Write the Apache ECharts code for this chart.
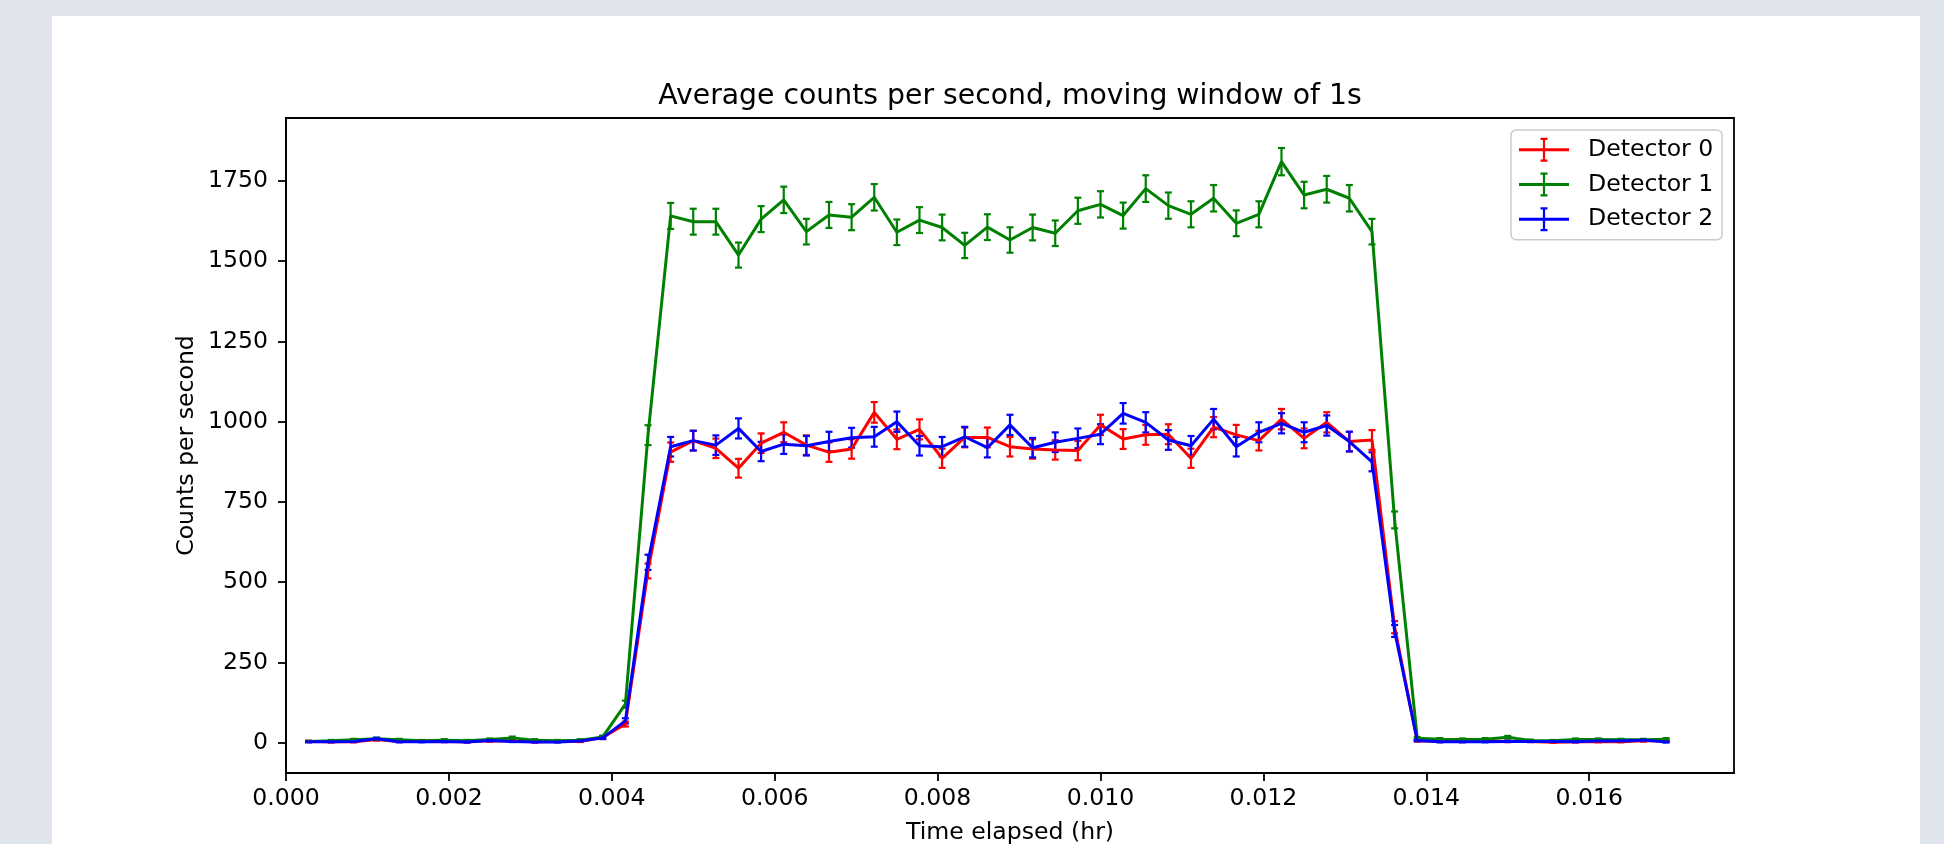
<!DOCTYPE html>
<html>
<head>
<meta charset="utf-8">
<script src="https://cdn.jsdelivr.net/npm/echarts@6/dist/echarts.min.js"></script>
<style>
  html, body { margin: 0; padding: 0; width: 1944px; height: 844px; overflow: hidden; background: #dfe3ec; }
  #card { position: absolute; left: 52px; top: 16px; width: 1868px; height: 900px; background: #ffffff; }
  #chart { position: absolute; left: 0; top: 0; width: 1944px; height: 844px; }
</style>
</head>
<body>
<div id="card"></div>
<div id="chart"></div>
<script>
// ---- data ----
const chartTitle = 'Average counts per second, moving window of 1s';
const xAxisTitle = 'Time elapsed (hr)';
const yAxisTitle = 'Counts per second';
const seriesNames = ['Detector 0', 'Detector 1', 'Detector 2'];

// elapsed time of each window, in seconds (plotted in hours)
const seconds = [1,2,3,4,5,6,7,8,9,10,11,12,13,14,15,16,17,18,19,20,
  21,22,23,24,25,26,27,28,29,30,31,32,33,34,35,36,37,38,39,40,
  41,42,43,44,45,46,47,48,49,50,51,52,53,54,55,56,57,58,59,60,61];

const det0 = [4,3,3,10,4,5,4,3,6,5,3,4,4,16,58,535,
  905,941,917,855,933,967,927,905,915,1029,945,976,886,951,951,922,
  915,912,910,990,946,959,961,886,983,959,941,1008,948,998,938,943,
  360,6,4,4,5,4,4,1,3,3,3,6,6];
const det0Err = [2,1.7,1.7,3.2,2,2.2,2,1.7,2.4,2.2,1.7,2,2,4,7.6,23.1,
  30.1,30.7,30.3,29.2,30.5,31.1,30.4,30.1,30.2,32.1,30.7,31.2,29.8,30.8,30.8,30.4,
  30.2,30.2,30.2,31.5,30.8,31,31,29.8,31.4,31,30.7,31.7,30.8,31.6,30.6,30.7,
  19,2.4,2,2,2.2,2,2,1,1.7,1.7,1.7,2.4,2.4];

const det1 = [4,6,9,12,9,6,8,6,10,15,8,6,8,18,120,958,
  1641,1623,1623,1519,1631,1691,1592,1644,1637,1699,1590,1628,1605,1549,1606,1566,
  1605,1587,1657,1677,1642,1726,1673,1646,1696,1618,1646,1810,1706,1724,1696,1592,
  694,14,11,10,11,17,7,6,10,10,9,9,11];
const det1Err = [2,2.5,3,3.5,3,2.5,3,2.5,3,4,3,2.5,3,4,11,31,
  40.5,40.3,40.3,39,40.4,41.1,39.9,40.5,40.5,41.2,39.9,40.3,40.1,39.4,40.1,39.6,
  40.1,39.8,40.7,41,40.5,41.5,40.9,40.6,41.2,40.2,40.6,42.5,41.3,41.5,41.2,39.9,
  26.3,3.7,3.3,3.2,3.3,4.1,2.6,2.4,3.2,3.2,3,3,3.3];

const det2 = [3,3,4,12,3,3,4,2,7,4,2,2,5,15,68,562,
  922,941,927,979,907,930,925,938,950,953,1000,925,922,953,919,990,
  919,936,948,961,1026,998,943,925,1008,922,967,995,967,988,938,875,
  348,7,3,3,3,4,4,4,3,5,5,8,2];
const det2Err = [1.7,1.7,2,3.5,1.7,1.7,2,1.4,2.6,2,1.4,1.4,2.2,3.9,8.2,23.7,
  30.4,30.7,30.4,31.3,30.1,30.5,30.4,30.6,30.8,30.9,31.6,30.4,30.4,30.9,30.3,31.5,
  30.3,30.6,30.8,31,32,31.6,30.7,30.4,31.7,30.4,31.1,31.5,31.1,31.4,30.6,29.6,
  18.7,2.6,1.7,1.7,1.7,2,2,2,1.7,2.2,2.2,2.8,1.4];

const xTicks = [0, 0.002, 0.004, 0.006, 0.008, 0.010, 0.012, 0.014, 0.016];
const yTicks = [0, 250, 500, 750, 1000, 1250, 1500, 1750];
const xRange = [0, 0.017778];
const yRange = [-94.4, 1946];

// ---- styling ----
const colors = ['#ff0000', '#008000', '#0000ff'];
const FONT = '"DejaVu Sans", "Liberation Sans", sans-serif';
const FS = 23.6;      // tick / label / legend font size
const TITLE_FS = 28.3;
const GRID = { left: 286, top: 118, width: 1448, height: 655 };

// legend icon: horizontal line + error bar with caps (50 x 24 box)
const legendIcon = 'path://' +
  'M0 10.5 L50 10.5 L50 13.5 L0 13.5 Z ' +
  'M23.9 0 L26.1 0 L26.1 24 L23.9 24 Z ' +
  'M21.5 0 L28.5 0 L28.5 2.2 L21.5 2.2 Z ' +
  'M21.5 21.8 L28.5 21.8 L28.5 24 L21.5 24 Z';

function toHours(s) { return s / 3600; }

function lineSeries(name, vals, color) {
  return {
    name: name,
    type: 'line',
    data: seconds.map((s, i) => [toHours(s), vals[i]]),
    showSymbol: false,
    symbol: 'none',
    lineStyle: { color: color, width: 3 },
    itemStyle: { color: color },
    emphasis: { disabled: true },
    z: 2
  };
}

function errSeries(name, vals, errs, color) {
  return {
    name: name,
    type: 'custom',
    data: seconds.map((s, i) => [toHours(s), vals[i] - errs[i], vals[i] + errs[i]]),
    encode: { x: 0, y: [1, 2] },
    itemStyle: { color: color },
    renderItem: function (params, api) {
      const x = api.value(0);
      const lo = api.coord([x, api.value(1)]);
      const hi = api.coord([x, api.value(2)]);
      const cw = 3.5;
      const st = { stroke: color, lineWidth: 2.2 };
      return {
        type: 'group',
        children: [
          { type: 'line', shape: { x1: lo[0], y1: lo[1], x2: hi[0], y2: hi[1] }, style: st },
          { type: 'line', shape: { x1: lo[0] - cw, y1: lo[1], x2: lo[0] + cw, y2: lo[1] }, style: st },
          { type: 'line', shape: { x1: hi[0] - cw, y1: hi[1], x2: hi[0] + cw, y2: hi[1] }, style: st }
        ]
      };
    },
    z: 2
  };
}

// measure the title so it can be centred over the plot area
const mctx = document.createElement('canvas').getContext('2d');
mctx.font = TITLE_FS + 'px ' + FONT;
const titleW = mctx.measureText(chartTitle).width;
const plotCenter = GRID.left + GRID.width / 2;

const chart = echarts.init(document.getElementById('chart'), null, { renderer: 'canvas' });
chart.setOption({
  animation: false,
  backgroundColor: 'transparent',
  title: {
    text: chartTitle,
    left: plotCenter - titleW / 2,
    top: 82.5,
    padding: 0,
    textStyle: { fontFamily: FONT, fontSize: TITLE_FS, fontWeight: 'normal', color: '#000' }
  },
  legend: {
    orient: 'vertical',
    left: 1511,
    top: 130,
    padding: [7.8, 8.7, 8.5, 8],
    itemGap: 10.7,
    itemWidth: 50,
    itemHeight: 24,
    backgroundColor: 'rgba(255,255,255,0.8)',
    borderColor: '#cccccc',
    borderWidth: 1.5,
    borderRadius: 5,
    selectedMode: false,
    textStyle: { fontFamily: FONT, fontSize: FS, color: '#000', padding: [0, 0, 0, 14] },
    data: seriesNames.map((n, i) => ({ name: n, icon: legendIcon, itemStyle: { color: colors[i] } }))
  },
  grid: Object.assign({
    show: true, borderColor: '#000', borderWidth: 1.8, backgroundColor: '#fff',
    containLabel: false, outerBoundsMode: 'none'
  }, GRID),
  xAxis: {
    type: 'value',
    min: xRange[0],
    max: xRange[1],
    name: xAxisTitle,
    nameLocation: 'middle',
    nameGap: 47.5,
    nameMoveOverlap: false,
    nameTextStyle: { fontFamily: FONT, fontSize: FS, color: '#000' },
    axisLine: { show: true, onZero: false, lineStyle: { color: '#000', width: 1.8 } },
    axisTick: { show: true, inside: false, length: 8, customValues: xTicks, lineStyle: { color: '#000', width: 1.8 } },
    axisLabel: {
      customValues: xTicks,
      formatter: v => v.toFixed(3),
      fontFamily: FONT, fontSize: FS, color: '#000', margin: 14
    },
    splitLine: { show: false }
  },
  yAxis: {
    type: 'value',
    min: yRange[0],
    max: yRange[1],
    name: yAxisTitle,
    nameLocation: 'middle',
    nameGap: 87,
    nameRotate: 90,
    nameMoveOverlap: false,
    nameTextStyle: { fontFamily: FONT, fontSize: FS, color: '#000' },
    axisLine: { show: true, onZero: false, lineStyle: { color: '#000', width: 1.8 } },
    axisTick: { show: true, inside: false, length: 8, customValues: yTicks, lineStyle: { color: '#000', width: 1.8 } },
    axisLabel: {
      customValues: yTicks,
      formatter: v => String(v),
      fontFamily: FONT, fontSize: FS, color: '#000', margin: 18
    },
    splitLine: { show: false }
  },
  series: [
    lineSeries(seriesNames[0], det0, colors[0]),
    errSeries(seriesNames[0], det0, det0Err, colors[0]),
    lineSeries(seriesNames[1], det1, colors[1]),
    errSeries(seriesNames[1], det1, det1Err, colors[1]),
    lineSeries(seriesNames[2], det2, colors[2]),
    errSeries(seriesNames[2], det2, det2Err, colors[2])
  ]
});
</script>
</body>
</html>
